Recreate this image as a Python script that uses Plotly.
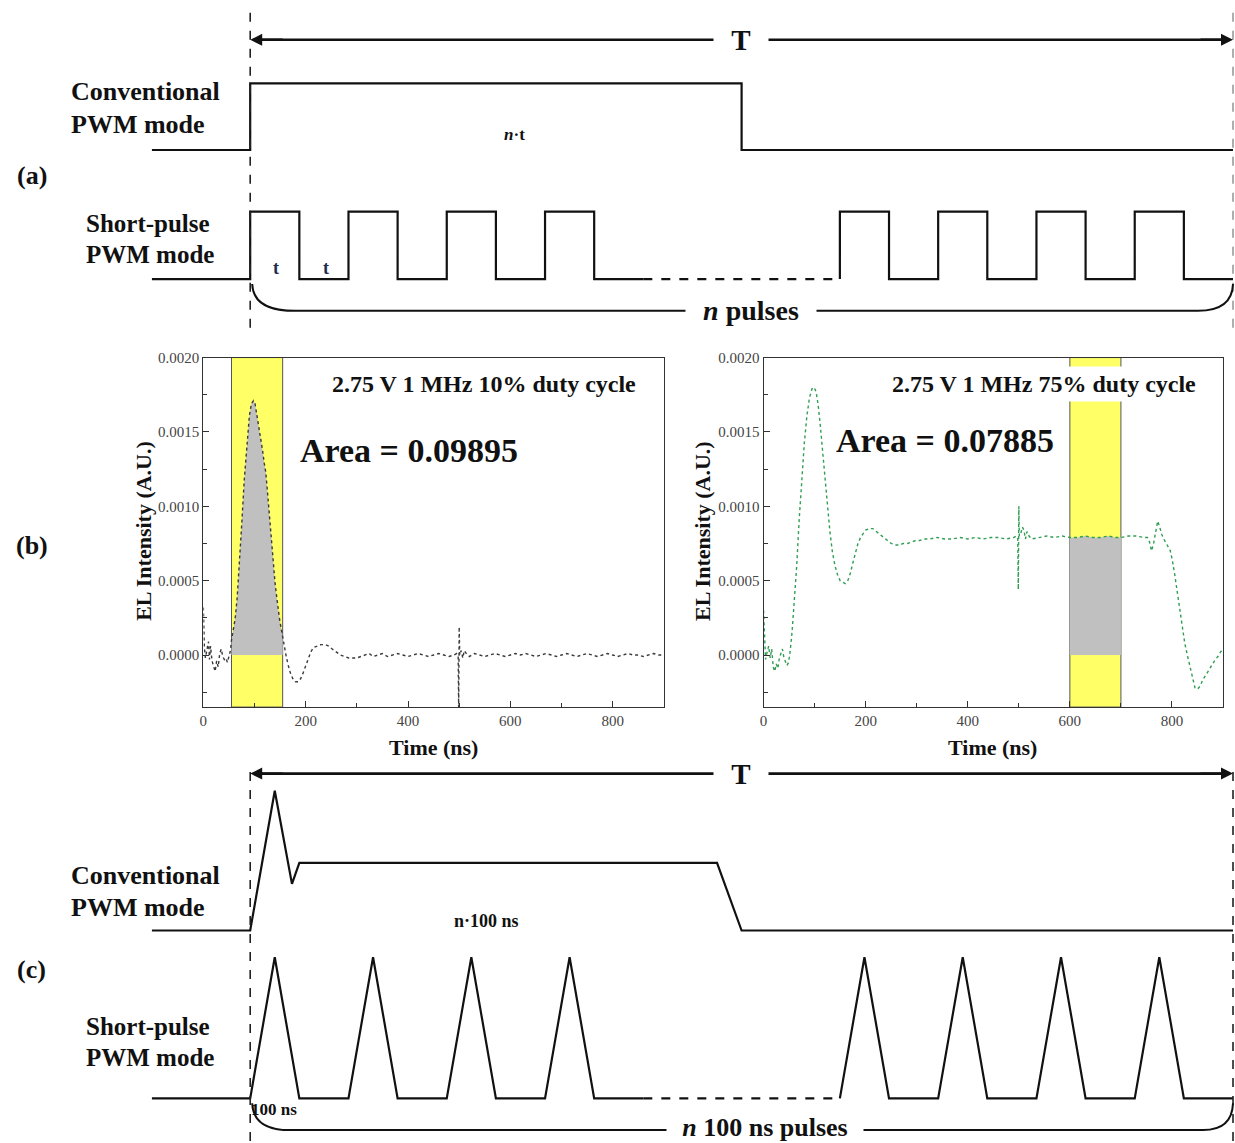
import plotly.graph_objects as go

# ---------------------------------------------------------------------------
# Data
# ---------------------------------------------------------------------------
# (b) measured EL transients, time in ns, intensity in arbitrary units
time_10 = [0, 2, 4, 7, 10, 12, 14, 17, 20, 23, 26, 29, 32, 35, 38, 41, 44, 47, 50, 53,
           55, 58, 62, 66, 70, 75, 80, 85, 90, 94, 98, 101, 104, 107, 110, 113, 116, 119,
           122, 125, 128, 131, 134, 137, 140, 143, 146, 149, 152, 155, 158, 162, 166, 170,
           175, 180, 185, 190, 195, 200, 205, 210, 215, 222, 230, 238, 245, 252, 260, 268,
           276, 284, 292, 300, 308, 316, 324, 332, 340, 350, 360, 370, 380, 390, 400, 410,
           420, 430, 440, 450, 460, 470, 480, 490, 495, 498, 499, 500, 501, 504, 507, 510,
           514, 520, 530, 540, 550, 560, 570, 580, 590, 600, 610, 620, 630, 640, 650, 660,
           670, 680, 690, 700, 710, 720, 730, 740, 750, 760, 770, 780, 790, 800, 810, 820,
           830, 840, 850, 860, 870, 880, 890, 900]
el_10 = [0.00032, 0.00005, -0.00002, 0.00004, 0.00009, -0.00003, 0.00006, -0.00004,
         -0.00007, -0.00011, -0.00004, -0.00008, 0.00001, 0.00004, -0.00001, -0.00003,
         -0.00002, -0.00005, -0.00001, 0.00003,
         0.00010, 0.00015, 0.00024, 0.00038, 0.00058, 0.00088, 0.00118, 0.00143, 0.00161,
         0.00169, 0.00171, 0.00169, 0.00163, 0.00156, 0.00150, 0.00144, 0.00137, 0.00129,
         0.00123, 0.00111, 0.00098, 0.00082, 0.00069, 0.00058, 0.00049, 0.00040, 0.00031,
         0.00024, 0.00018, 0.00012, 0.00006, -0.00001, -0.00007, -0.00012,
         -0.00016, -0.00018, -0.00018, -0.00016, -0.00012, -0.00007, -0.00002, 0.00002,
         0.00005, 0.00006, 0.00007, 0.00007, 0.00006, 0.00004, 0.00002, 0.00000,
         -0.00001, -0.00002, -0.00002, -0.00002, -0.00001, 0.00000, 0.00001, -0.00001,
         0.00000, 0.00001, -0.00001, 0.00000, 0.00001, 0.00000, -0.00001, 0.00000,
         0.00001, 0.00000, -0.00001, 0.00000, 0.00001, 0.00000, -0.00001, 0.00000,
         0.00001, -0.00001, -0.00035, 0.00019, 0.00000, 0.00003, -0.00002, 0.00003,
         0.00001, -0.00001, 0.00001, 0.00000, -0.00001, 0.00000, 0.00001, 0.00000,
         -0.00001, 0.00000, 0.00001, 0.00000, 0.00001, 0.00000, -0.00001, 0.00000,
         0.00001, 0.00000, -0.00001, 0.00000, 0.00001, 0.00000, -0.00001, 0.00000,
         0.00001, 0.00000, -0.00001, 0.00000, 0.00001, 0.00000, -0.00001, 0.00000,
         0.00001, 0.00000, 0.00000, -0.00001, 0.00000, 0.00001, 0.00000, 0.00000]

time_75 = [0, 2, 4, 7, 10, 13, 16, 19, 22, 25, 28, 31, 34, 37, 40, 43, 46, 49, 52, 56,
           60, 65, 70, 75, 80, 85, 90, 95, 99, 103, 107, 111, 115, 120, 125, 130, 135, 140,
           145, 150, 155, 160, 165, 170, 175, 180, 185, 190, 195, 200, 207, 214, 221, 228,
           235, 242, 250, 258, 266, 274, 282, 290, 298, 306, 314, 325, 340, 355, 370, 385,
           400, 415, 430, 445, 460, 475, 490, 495, 498, 499, 500, 501, 504, 507, 510, 513,
           516, 520, 525, 540, 555, 570, 585, 600, 615, 630, 645, 660, 675, 690, 700, 715,
           730, 745, 752, 756, 760, 764, 768, 772, 776, 780, 784, 788, 792, 796, 800, 805,
           810, 815, 820, 825, 830, 835, 840, 845, 850, 855, 860, 865, 870, 875, 880, 885,
           890, 895, 900]
el_75 = [0.00030, 0.00008, -0.00003, 0.00002, 0.00006, -0.00002, 0.00004, -0.00008,
         -0.00011, -0.00006, -0.00009, -0.00002, 0.00001, 0.00004, -0.00002, -0.00004,
         -0.00007, -0.00005, 0.00002, 0.00016,
         0.00034, 0.00060, 0.00092, 0.00120, 0.00143, 0.00161, 0.00173, 0.00179, 0.00180,
         0.00177, 0.00168, 0.00155, 0.00140, 0.00120, 0.00100, 0.00083, 0.00069, 0.00060,
         0.00054, 0.00050, 0.00049, 0.00048, 0.00050, 0.00055, 0.00062, 0.00069, 0.00075,
         0.00079, 0.00082, 0.00084, 0.00085, 0.00085, 0.00083, 0.00081,
         0.00079, 0.00077, 0.00075, 0.00074, 0.00074, 0.00075, 0.00075, 0.00076, 0.00077,
         0.00077, 0.00078, 0.00078, 0.00079, 0.00078, 0.00078, 0.00079,
         0.00078, 0.00079, 0.00078, 0.00079, 0.00079, 0.00078, 0.00079, 0.00080, 0.00078,
         0.00044, 0.00100, 0.00080, 0.00082, 0.00086, 0.00084, 0.00078,
         0.00083, 0.00080, 0.00078, 0.00079, 0.00080, 0.00079, 0.00080, 0.00079, 0.00079,
         0.00080, 0.00079, 0.00079, 0.00080, 0.00079, 0.00079, 0.00080,
         0.00080, 0.00079, 0.00079, 0.00076, 0.00070, 0.00075, 0.00084, 0.00090, 0.00086,
         0.00081, 0.00078, 0.00075, 0.00073, 0.00071, 0.00065, 0.00055,
         0.00043, 0.00030, 0.00018, 0.00008, 0.00000, -0.00008, -0.00016, -0.00022,
         -0.00023, -0.00021, -0.00017, -0.00014, -0.00011, -0.00008, -0.00006, -0.00003,
         -0.00001, 0.00002, 0.00004]

# integration windows (ns)
window_10 = [55, 155]
window_75 = [600, 700]

# (a) drive waveforms, time in units of t, level 0 (off) / 1 (on)
a_conv_time = [-2, 0, 0, 10, 10, 20]
a_conv_level = [0, 0, 1, 1, 0, 0]
pulse_starts_early = [0, 2, 4, 6]
pulse_starts_late = [12, 14, 16, 18]
pulse_width = 1
train_start, gap_start, gap_end, period_end = -2, 8, 12, 20

# (c) EL response, time in units of 100 ns, level relative to steady state
c_conv_time = [-2, 0, 0.5, 0.85, 1.0, 9.5, 10, 20]
c_conv_level = [0, 0, 2.07, 0.69, 1, 1, 0, 0]
c_peak_level = 2.09

# ---------------------------------------------------------------------------
# Layout helpers
# ---------------------------------------------------------------------------
W, H = 1235, 1143
SERIF = "Liberation Serif, Times New Roman, serif"
INK = "#111111"


def px(x):
    return x / W


def py(y):
    return 1 - y / H


def square_train(starts, t_from, t_to):
    xs, ys = [t_from], [0]
    for s in starts:
        xs += [s, s, s + pulse_width, s + pulse_width]
        ys += [0, 1, 1, 0]
    xs.append(t_to)
    ys.append(0)
    return xs, ys


def triangle_train(starts, t_from, t_to, peak):
    xs, ys = [t_from], [0]
    for s in starts:
        xs += [s, s + pulse_width / 2, s + pulse_width]
        ys += [0, peak, 0]
    xs.append(t_to)
    ys.append(0)
    return xs, ys


fig = go.Figure()


def wave(xs, ys, yaxis, dash="solid"):
    fig.add_trace(go.Scatter(x=xs, y=ys, xaxis="x3", yaxis=yaxis, mode="lines",
                             line=dict(color=INK, width=2.2, dash=dash),
                             showlegend=False, hoverinfo="skip"))


# (a) conventional and short-pulse square waves
wave(a_conv_time, a_conv_level, "y3")
xs, ys = square_train(pulse_starts_early, train_start, gap_start)
wave(xs, ys, "y4")
wave([gap_start, gap_end], [0, 0], "y4", dash="dash")
xs, ys = square_train(pulse_starts_late, gap_end, period_end)
wave(xs, ys, "y4")

# (c) conventional and short-pulse EL responses
wave(c_conv_time, c_conv_level, "y5")
xs, ys = triangle_train(pulse_starts_early, train_start, gap_start, c_peak_level)
wave(xs, ys, "y6")
wave([gap_start, gap_end], [0, 0], "y6", dash="dash")
xs, ys = triangle_train(pulse_starts_late, gap_end, period_end, c_peak_level)
wave(xs, ys, "y6")

# (b) measured transients with the integrated area shaded
for t, v, win, color, xa, ya in [
    (time_10, el_10, window_10, "#3a3a3a", "x", "y"),
    (time_75, el_75, window_75, "#2f9e52", "x2", "y2"),
]:
    sub = [(a, b) for a, b in zip(t, v) if win[0] <= a <= win[1]]
    fig.add_trace(go.Scatter(x=[a for a, _ in sub], y=[b for _, b in sub],
                             xaxis=xa, yaxis=ya, mode="lines", fill="tozeroy",
                             fillcolor="#c0c0c0", line=dict(width=0),
                             showlegend=False, hoverinfo="skip"))
    fig.add_trace(go.Scatter(x=t, y=v, xaxis=xa, yaxis=ya, mode="lines",
                             line=dict(color=color, width=1.4, dash="dot"),
                             showlegend=False, hoverinfo="skip"))

# ---------------------------------------------------------------------------
# Axes
# ---------------------------------------------------------------------------
tick_font = dict(family=SERIF, size=15, color="#444444")
plot_x = dict(range=[0, 900], tick0=0, dtick=200, ticks="inside", ticklen=6,
              tickcolor="#333", tickwidth=1,
              minor=dict(dtick=100, ticks="inside", ticklen=4, tickcolor="#333"),
              showline=True, linecolor="#333", linewidth=1.2, mirror=True,
              showgrid=False, zeroline=False, tickfont=tick_font)
plot_y = dict(range=[-0.00035, 0.0020], tick0=0, dtick=0.0005, tickformat=".4f",
              ticks="inside", ticklen=6, tickcolor="#333", tickwidth=1,
              minor=dict(dtick=0.00025, ticks="inside", ticklen=4, tickcolor="#333"),
              showline=True, linecolor="#333", linewidth=1.2, mirror=True,
              showgrid=False, zeroline=False, tickfont=tick_font)

ydom_b = [py(704), py(352)]
fig.update_layout(
    xaxis=dict(plot_x, domain=[px(200), px(662)], anchor="y"),
    yaxis=dict(plot_y, domain=ydom_b, anchor="x"),
    xaxis2=dict(plot_x, domain=[px(762), px(1223)], anchor="y2"),
    yaxis2=dict(plot_y, domain=ydom_b, anchor="x2"),
)

# schematic time axis: t = 0 at the left marker line, t = 20 at the right one
x_left_px, x_right_px = 247, 1233
units_per_px = (period_end - 0) / (x_right_px - x_left_px)
fig.update_layout(xaxis3=dict(domain=[0, 1], anchor="y3", visible=False,
                              range=[-x_left_px * units_per_px,
                                     (W - x_left_px) * units_per_px]))


def row_axis(base_px, unit_px, lo, hi):
    return dict(domain=[py(base_px + lo * unit_px), py(base_px - hi * unit_px)],
                range=[-lo, hi], anchor="x3", visible=False)


fig.update_layout(
    yaxis3=row_axis(143, 67, 0.4, 1.3),
    yaxis4=row_axis(273, 68, 0.4, 1.3),
    yaxis5=row_axis(929, 68, 0.4, 2.3),
    yaxis6=row_axis(1098, 68, 0.4, 2.3),
)

# ---------------------------------------------------------------------------
# Shapes: integration windows, period markers, arrows and braces
# ---------------------------------------------------------------------------
shapes = []
for win, xr, yr in [(window_10, "x", "y domain"), (window_75, "x2", "y2 domain")]:
    shapes.append(dict(type="rect", xref=xr, yref=yr,
                       x0=win[0], x1=win[1], y0=0, y1=1, layer="below",
                       fillcolor="#ffff66", line=dict(color="#555", width=1)))

for y0, y1, right_color in [(3, 322, "#9a9a9a"), (763, 1141, "#222222")]:
    shapes.append(dict(type="line", xref="x3", yref="paper", x0=0, x1=0,
                       y0=py(y1), y1=py(y0), line=dict(color="#222", width=1.6, dash="dash")))
    shapes.append(dict(type="line", xref="x3", yref="paper", x0=period_end, x1=period_end,
                       y0=py(y1), y1=py(y0),
                       line=dict(color=right_color, width=1.6, dash="dash")))

arrow_rows = (32, 771)
for y in arrow_rows:
    shapes.append(dict(type="line", xref="x3", yref="paper", x0=0.15, x1=period_end - 0.15,
                       y0=py(y), y1=py(y), line=dict(color=INK, width=2.6)))


def brace(y_top, y_line, x_l_end, x_r_start):
    return dict(type="path", xref="paper", yref="paper",
                path=(f"M {px(249)},{py(y_top)} Q {px(250)},{py(y_line)} {px(x_l_end)},{py(y_line)} "
                      f"L {px(x_r_start)},{py(y_line)} Q {px(1232)},{py(y_line)} {px(1233)},{py(y_top)}"),
                line=dict(color=INK, width=2))


shapes.append(brace(278, 305, 292, 1198))
shapes.append(brace(1103, 1130, 287, 1203))
fig.update_layout(shapes=shapes)

# ---------------------------------------------------------------------------
# Annotations
# ---------------------------------------------------------------------------
ann = []


def txt(x, y, s, size, xanchor="center", color=INK, **kw):
    ann.append(dict(x=px(x), y=py(y), xref="paper", yref="paper", text=s,
                    showarrow=False, xanchor=xanchor, yanchor="middle",
                    font=dict(family=SERIF, size=size, color=color), **kw))


# period arrows
for y in arrow_rows:
    for xt, ax in [(0, 34), (period_end, -34)]:
        ann.append(dict(x=xt, y=py(y), xref="x3", yref="paper", ax=ax, ay=0,
                        text="", showarrow=True, arrowhead=2, arrowsize=1,
                        arrowwidth=2.4, arrowcolor=INK, standoff=0))
    txt(739, y, "<b>T</b>", 29, bgcolor="white", width=52)

# row labels
for y1, y2 in [(84, 117), (874, 906)]:
    txt(65, y1, "<b>Conventional</b>", 26, xanchor="left")
    txt(65, y2, "<b>PWM mode</b>", 26, xanchor="left")
for y1, y2 in [(217, 248), (1026, 1057)]:
    txt(80, y1, "<b>Short-pulse</b>", 25, xanchor="left")
    txt(80, y2, "<b>PWM mode</b>", 25, xanchor="left")

txt(28, 169, "<b>(a)</b>", 26)
txt(28, 541, "<b>(b)</b>", 26)
txt(28, 968, "<b>(c)</b>", 26)

# timing labels
txt(512, 127, "<b><i>n</i>·t</b>", 17)
txt(273, 262, "<b>t</b>", 18, color="#1f2d4d")
txt(323, 262, "<b>t</b>", 18, color="#1f2d4d")
txt(484, 919, "<b>n·100 ns</b>", 18)
txt(246, 1109, "<b>100 ns</b>", 17, xanchor="left")
txt(749, 305, "<b><i>n</i> pulses</b>", 28, bgcolor="white", width=128)
txt(763, 1127, "<b><i>n</i> 100 ns pulses</b>", 26, bgcolor="white", width=196,
    borderpad=0)

# panel (b) texts
txt(482, 379, "<b>2.75 V 1 MHz 10% duty cycle</b>", 24, bgcolor="white", borderpad=4)
txt(1043, 379, "<b>2.75 V 1 MHz 75% duty cycle</b>", 24, bgcolor="white", borderpad=4)
txt(406, 446, "<b>Area = 0.09895</b>", 34, bgcolor="white", borderpad=3)
txt(944, 436, "<b>Area = 0.07885</b>", 34, bgcolor="white", borderpad=3)

for xc in (140, 701):
    txt(xc, 527, "<b>EL Intensity (A.U.)</b>", 22, textangle=-90)
txt(431, 745, "<b>Time (ns)</b>", 22)
txt(992, 745, "<b>Time (ns)</b>", 22)

fig.update_layout(
    annotations=ann,
    width=W, height=H,
    margin=dict(l=0, r=0, t=0, b=0),
    paper_bgcolor="white",
    plot_bgcolor="rgba(0,0,0,0)",
    showlegend=False,
)

fig.write_html("out.html")
